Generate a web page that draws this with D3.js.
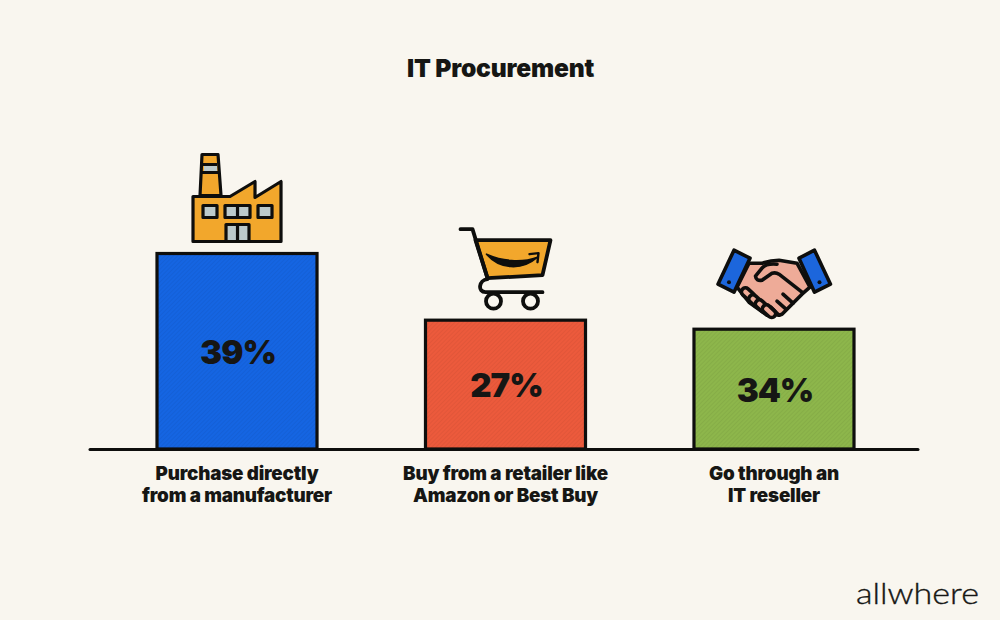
<!DOCTYPE html>
<html><head><meta charset="utf-8">
<script src="https://cdn.jsdelivr.net/npm/d3@7"></script>
<style>html,body{margin:0;padding:0;background:#f9f6ef}svg{display:block}text{font-family:Inter,"Noto Sans",sans-serif;fill:#161614}</style>
</head><body><div id="chart"></div>
<script>
const chartTitle = "IT Procurement";
const categories = ["Purchase directly|from a manufacturer","Buy from a retailer like|Amazon or Best Buy","Go through an|IT reseller"];
// printed percentages
const labels = ["39%","27%","34%"];
// bar heights as drawn in the picture (they do not follow the printed numbers)
const barValues = [39,25.7,23.9];
const barColors = ["#1565e2","#ec5a3c","#8db64b"];
const icons = ["factory","cart","hands"];

const W=1000,H=620,ink="#0e0e0d",orange="#f2a72c",grey="#bccacb",skin="#eeab98",cuff="#1c66dc",bg="#f9f6ef";
const svg=d3.select("#chart").append("svg").attr("width",W).attr("height",H);
svg.append("rect").attr("width",W).attr("height",H).attr("fill",bg);
const x=d3.scaleBand().domain(d3.range(3)).range([157,854]).paddingInner(0.404).paddingOuter(0);
const y=d3.scaleLinear().domain([0,39]).range([449,253.5]);
const cx=i=>x(i)+x.bandwidth()/2;

const defs=svg.append("defs");
barColors.forEach((c,i)=>{
  const p=defs.append("pattern").attr("id","h"+i).attr("width",3).attr("height",3)
    .attr("patternUnits","userSpaceOnUse").attr("patternTransform","rotate(45)");
  p.append("rect").attr("width",3).attr("height",3).attr("fill",c);
  p.append("rect").attr("width",1).attr("height",3).attr("fill",d3.color(c).darker(0.14));
});

svg.append("text").attr("x",500.5).attr("y",77).attr("text-anchor","middle")
  .attr("font-size",24.6).attr("font-weight",900).attr("letter-spacing",-0.2).text(chartTitle);

svg.selectAll("rect.bar").data(barValues).join("rect").attr("class","bar")
  .attr("x",(d,i)=>x(i)).attr("y",d=>y(d)).attr("width",x.bandwidth()).attr("height",d=>y(0)-y(d))
  .attr("fill",(d,i)=>`url(#h${i})`).attr("stroke",ink).attr("stroke-width",3.2);

svg.append("line").attr("x1",90).attr("x2",918).attr("y1",449.5).attr("y2",449.5)
  .attr("stroke",ink).attr("stroke-width",3).attr("stroke-linecap","round");

svg.selectAll("text.val").data(labels).join("text").attr("class","val")
  .attr("x",(d,i)=>cx(i)+1).attr("y",(d,i)=>(y(barValues[i])+y(0))/2+12.5)
  .attr("text-anchor","middle").attr("font-size",33).attr("font-weight",900).attr("letter-spacing",-1).text(d=>d);

categories.forEach((c,i)=>{
  c.split("|").forEach((l,j)=>{
    svg.append("text").attr("x",cx(i)).attr("y",479.5+j*22).attr("text-anchor","middle")
      .attr("font-size",18.8).attr("font-weight",900).attr("letter-spacing",-0.2).text(l);
  });
});

svg.append("text").attr("x",856).attr("y",604).attr("font-size",29).attr("font-weight",300)
  .attr("stroke","#161614").attr("stroke-width",0.35)
  .style("font-family","Lato").attr("textLength",123).attr("lengthAdjust","spacingAndGlyphs").text("allwhere");

const draw={
 factory(g){
  const s={stroke:ink,"stroke-width":3.2,"stroke-linejoin":"round"};
  const P=(d,f)=>{const e=g.append("path").attr("d",d).attr("fill",f);Object.entries(s).forEach(([k,v])=>e.attr(k,v));return e;};
  P("M-35,-99L-19,-99L-16,-58L-37,-58Z",orange);
  g.append("rect").attr("x",-33).attr("y",-88).attr("width",13).attr("height",6).attr("fill",grey);
  P("M-34,-89H-20M-35,-81H-19","none");
  P("M-44,-57L-7,-57L18,-72L18,-56L44,-72L44,-12L-44,-12Z",orange);
  [[-34,14],[-12,25],[21,14]].forEach(([a,w])=>{P(`M${a},-48h${w}v12h${-w}Z`,grey);});
  P("M0.5,-48V-36","none");
  P("M-11,-12V-29H12V-12Z",grey);
  P("M0.5,-29V-12","none");
 },
 cart(g){
  const s=e=>e.attr("stroke",ink).attr("stroke-width",3.8).attr("stroke-linejoin","round").attr("stroke-linecap","round");
  s(g.append("path").attr("d","M-30,-80L45,-80L37,-45L-18,-42Z").attr("fill",orange));
  s(g.append("path").attr("d","M-45,-91L-33,-91L-18,-42").attr("fill","none"));
  s(g.append("path").attr("d","M-18,-41C-27,-40 -28,-28 -20,-28L37,-28").attr("fill","none"));
  [-12,25].forEach(a=>s(g.append("circle").attr("cx",a).attr("cy",-19).attr("r",7.5).attr("fill",bg)));
  g.append("path").attr("d","M-19,-66C-6,-51 16,-49 32,-63C16,-57 -4,-59 -19,-66Z").attr("fill",ink).attr("stroke",ink).attr("stroke-width",1.6).attr("stroke-linejoin","round");
  s(g.append("path").attr("d","M24,-66L33,-67L32,-58").attr("fill","none")).attr("stroke-width",2.4);
 },
 hands(g){
  const s=e=>e.attr("stroke",ink).attr("stroke-width",3.6).attr("stroke-linejoin","round").attr("stroke-linecap","round");
  s(g.append("path").attr("d","M-25,-66L-12,-66Q-3,-69 5,-69L23,-66L36,-42L28,-35L8,-15L5,-14L-3,-16L-7,-14L-25,-27L-37,-42Z").attr("fill",skin));
  [[-26,-35],[-18.5,-28],[-12,-23],[-5,-18]].forEach(([a,b])=>{
    const t=`translate(${a},${b}) rotate(42)`;
    s(g.append("rect").attr("x",-7.5).attr("y",-4).attr("width",15).attr("height",8).attr("rx",4).attr("transform",t).attr("fill",skin));
  });
  s(g.append("path").attr("d","M3,-65Q-8,-66 -12,-61L-18.5,-53Q-18,-48 -12,-49L-2,-56Q2,-57 5,-55L28,-37").attr("fill",skin));
  s(g.append("path").attr("d","M19,-26L9,-35M12,-20L3,-28M5,-14L-3,-22").attr("fill","none"));
  s(g.append("path").attr("d","M-40,-79L-24,-71L-40,-37L-56,-45Z").attr("fill",cuff));
  s(g.append("path").attr("d","M40.5,-79L25,-71L40.5,-37L56.5,-45Z").attr("fill",cuff));
  [-45,45.5].forEach(a=>g.append("circle").attr("cx",a).attr("cy",-47).attr("r",2).attr("fill",ink));
 }
};
icons.forEach((k,i)=>{
  const g=svg.append("g").attr("transform",`translate(${cx(i)},${y(barValues[i])})`);
  draw[k](g);
});
</script></body></html>
